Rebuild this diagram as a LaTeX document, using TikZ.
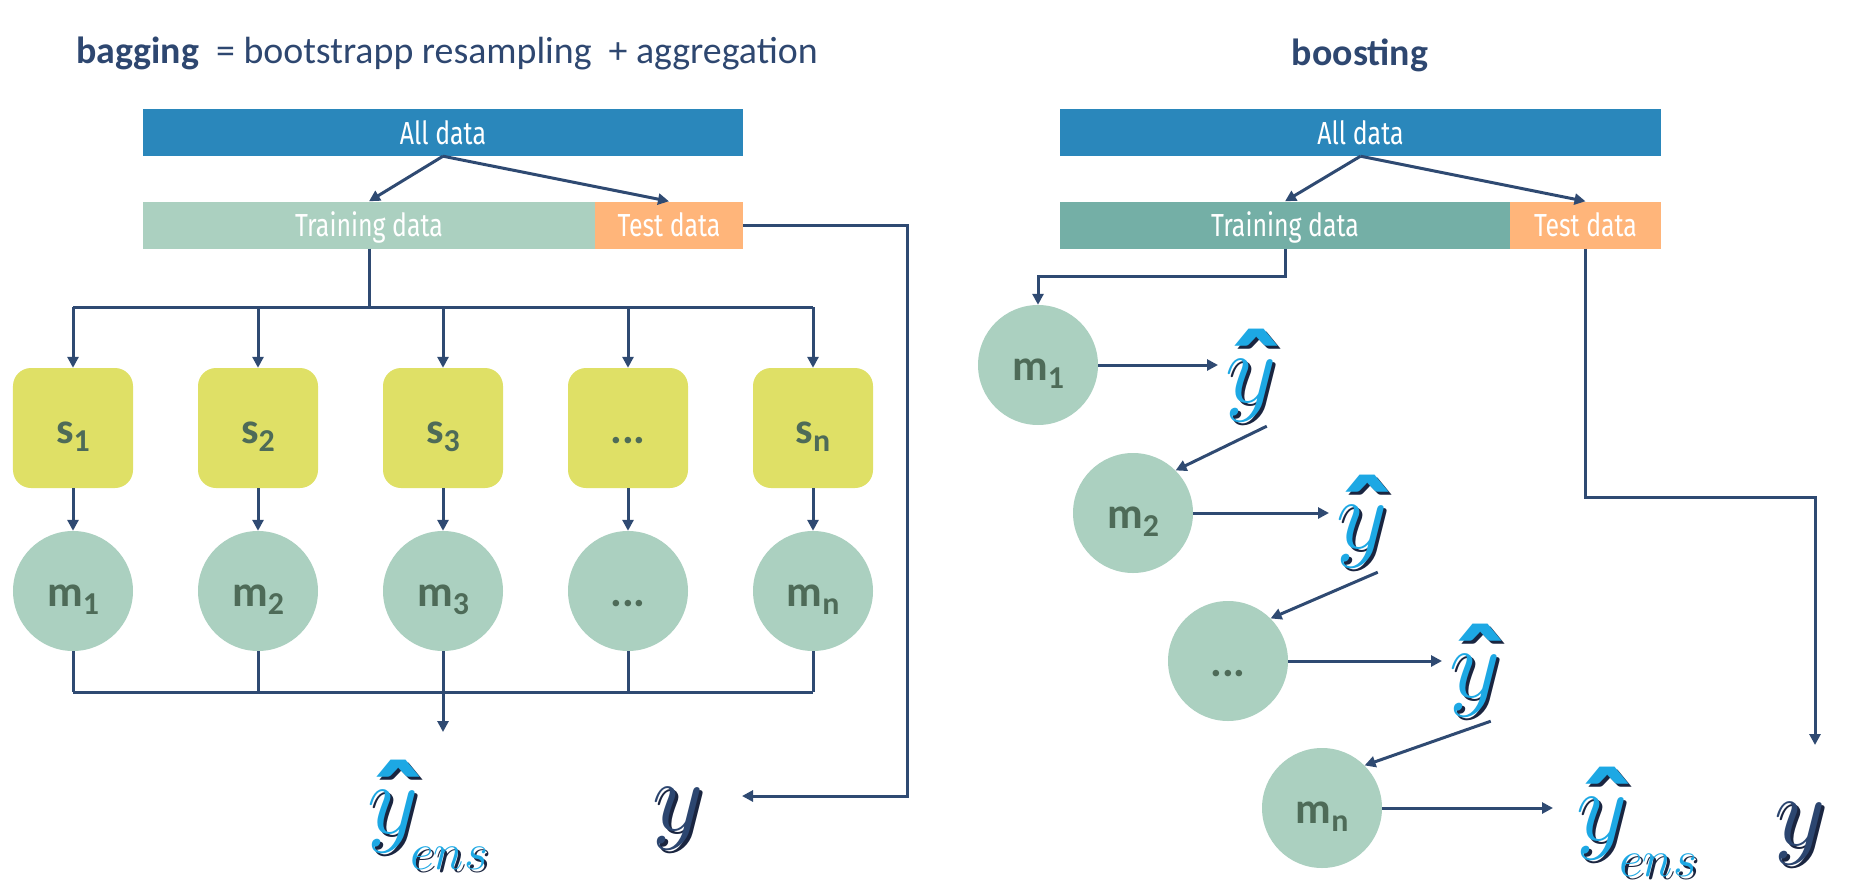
\documentclass[tikz,border=0pt]{standalone}
\usepackage{fix-cm}
\usepackage{fontspec}
\setmainfont{Carlito}
\newfontfamily\boxfont[FakeStretch=0.78]{Fira Sans}
\usetikzlibrary{arrows.meta}

\definecolor{lineblue}{HTML}{2F4A72}
\definecolor{titleblue}{HTML}{2E4770}
\definecolor{allblue}{HTML}{2A87BB}
\definecolor{trainlight}{HTML}{ABD0C0}
\definecolor{traindark}{HTML}{74AFA6}
\definecolor{testorange}{HTML}{FFB57A}
\definecolor{sgreen}{HTML}{DFE066}
\definecolor{mgreen}{HTML}{ABD0C0}
\definecolor{labgreen}{HTML}{4E6B58}
\definecolor{ycyan}{HTML}{1DA8E4}
\definecolor{ynavy}{HTML}{2C4670}
\definecolor{yshadow}{HTML}{1A2540}

\newcommand{\lowidx}[2]{#1\raisebox{-8bp}{\fontsize{32}{32}\selectfont #2}}
\newcommand{\glyphy}[2]{\makebox[0pt][l]{\hspace{3bp}\raisebox{-3bp}{\color{yshadow}#2}}{\color{#1}#2}}
\newcommand{\haty}{\ooalign{$y$\cr\hidewidth\hspace{12bp}\raisebox{-15bp}{\bfseries\fontsize{130}{130}\selectfont\char"02C6}\hidewidth\cr}}
\newcommand{\enslab}{\haty\hspace{-8bp}\raisebox{-36bp}{\fontsize{52}{52}\selectfont$ens$}}
\newcommand{\dotlab}{...}

\begin{document}
\begin{tikzpicture}[x=1bp, y=-1bp,
        conn/.style={draw=lineblue, line width=3bp},
        arr/.style={conn, -{Triangle[length=11bp,width=11bp]}},
        title/.style={text=titleblue, inner sep=0pt, font=\fontsize{38}{38}\selectfont},
        databox/.style={inner sep=0pt, minimum height=47bp, text=white, text height=23bp, text depth=0bp,
                font=\boxfont\fontsize{32}{32}\selectfont},
        sbox/.style={rectangle, rounded corners=18bp, fill=sgreen, minimum size=120bp, inner sep=0pt,
                text=labgreen, text height=38bp, text depth=8bp, font=\bfseries\fontsize{44}{44}\selectfont},
        mcirc/.style={circle, fill=mgreen, minimum size=120bp, inner sep=0pt,
                text=labgreen, text height=38bp, text depth=8bp, font=\bfseries\fontsize{44}{44}\selectfont},
        yglyph/.style={anchor=base west, inner sep=0pt, font=\fontsize{100}{100}\selectfont}]
        \useasboundingbox (0,0) rectangle (1864,889);

        % bagging
        \node[title, anchor=base west] (bagTitle) at (76,63) {\textbf{bagging}\ \ = bootstrapp resampling\ \ + aggregation};
        \node[databox, fill=allblue, minimum width=600bp] (allL) at (443,132.5) {All data};
        \node[databox, fill=trainlight, minimum width=452bp] (trainL) at (369,225) {Training data};
        \node[databox, fill=testorange, minimum width=148bp] (testL) at (669,225) {Test data};
        \draw[arr] (allL.south) -- (trainL.north);
        \draw[arr] (allL.south) -- (testL.north);

        \coordinate (busT) at (369,307);
        \coordinate (busB) at (443,692);
        \foreach \i/\s/\m in {1/{\lowidx{s}{1}}/{\lowidx{m}{1}}, 2/{\lowidx{s}{2}}/{\lowidx{m}{2}},
                3/{\lowidx{s}{3}}/{\lowidx{m}{3}}, 4/\dotlab/\dotlab, 5/{\lowidx{s}{n}}/{\lowidx{m}{n}}} {
                \node[sbox] (s\i) at ({73+185*(\i-1)},428) {\s};
                \node[mcirc] (m\i) at ({73+185*(\i-1)},591) {\m};
                \draw[arr] (s\i.north |- busT) -- (s\i.north);
                \draw[arr] (s\i) -- (m\i);
                \draw[conn] (m\i.south) -- (m\i.south |- busB);
            }
        \draw[conn] (trainL.south) -- (busT);
        \draw[conn] (s1.north |- busT) -- (s5.north |- busT);
        \draw[conn] (m1.south |- busB) -- (m5.south |- busB);

        \node[yglyph] (yensL) at (367,833) {\glyphy{ycyan}{\enslab}};
        \node[yglyph] (yL) at (652,830) {\glyphy{ynavy}{$y$}};
        \coordinate (ensTip) at (443,732);
        \coordinate (turnL) at (907,796);
        \coordinate (yTipL) at (742,796);
        \draw[arr] (busB) -- (ensTip);
        \draw[arr] (testL.east) -| (turnL) -- (yTipL);

        % boosting
        \node[title, anchor=base] (boostTitle) at (1360,65) {\textbf{boosting}};
        \node[databox, fill=allblue, minimum width=601bp] (allR) at (1360.5,132.5) {All data};
        \node[databox, fill=traindark, minimum width=450bp] (trainR) at (1285,225) {Training data};
        \node[databox, fill=testorange, minimum width=151bp] (testR) at (1585.5,225) {Test data};
        \draw[arr] (allR.south) -- (trainR.north);
        \draw[arr] (allR.south) -- (testR.north);

        \foreach \i/\m/\x/\y in {1/{\lowidx{m}{1}}/1038/365, 2/{\lowidx{m}{2}}/1133/513,
                3/\dotlab/1228/661, 4/{\lowidx{m}{n}}/1322/808} {
                \node[mcirc] (mR\i) at (\x,\y) {\m};
            }
        \foreach \i/\x/\b in {1/1225/402, 2/1336/548, 3/1449/697} {
                \node[yglyph] (yh\i) at (\x,\b) {\glyphy{ycyan}{\haty}};
                \draw[arr, shorten >=7bp] (mR\i.east) -- (mR\i.east -| yh\i.west);
            }
        \foreach \i/\j in {1/2, 2/3, 3/4} {
                \draw[arr] ([xshift=16bp,yshift=-6bp]yh\i.south) -- (mR\j.north east);
            }
        \node[yglyph] (yensR) at (1576,840) {\glyphy{ycyan}{\enslab}};
        \node[yglyph] (yR) at (1774,845) {\glyphy{ynavy}{$y$}};
        \draw[arr, shorten >=23bp] (mR4.east) -- (mR4.east -| yensR.west);

        \coordinate (turnR) at (1285,276);
        \coordinate (turnT) at (1815,497);
        \coordinate (yTipR) at (1815,745);
        \draw[arr] (trainR.south) -- (turnR) -| (mR1.north);
        \draw[arr] (testR.south) |- (turnT) -- (yTipR);

    \end{tikzpicture}
\end{document}
